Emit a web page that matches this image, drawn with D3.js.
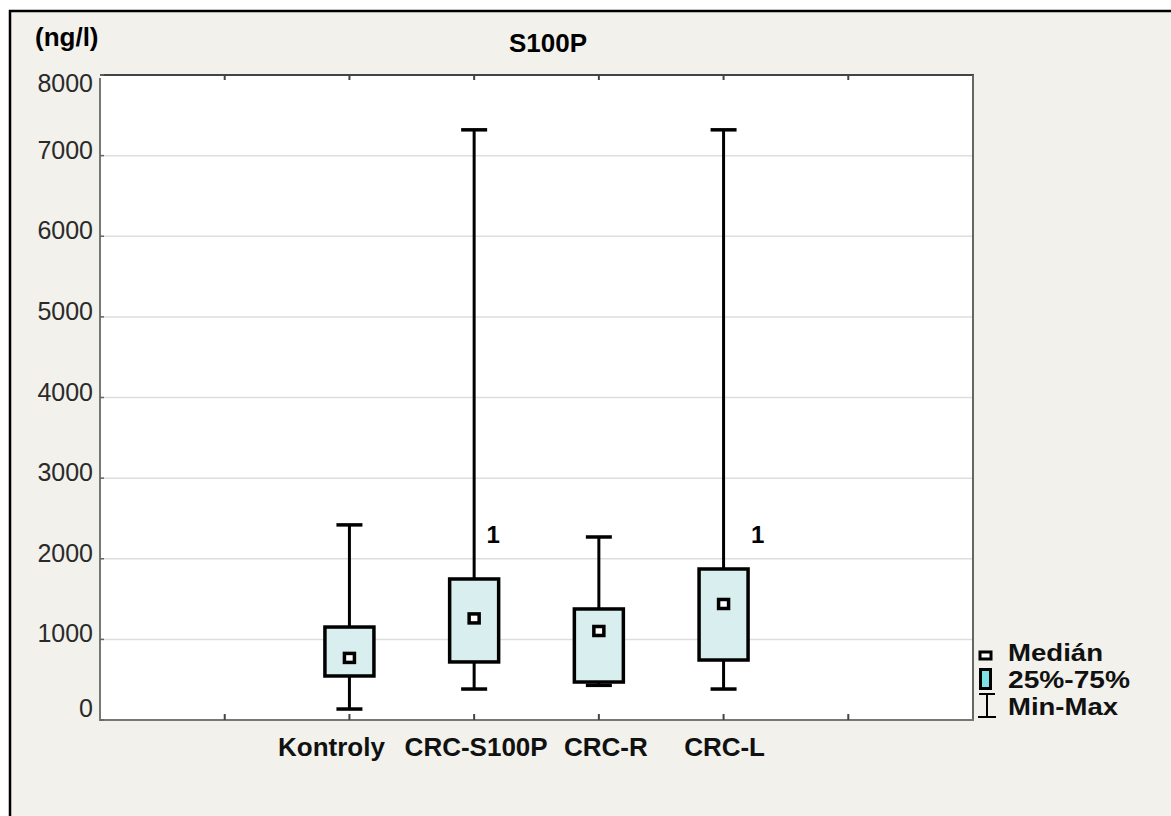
<!DOCTYPE html>
<html>
<head>
<meta charset="utf-8">
<script src="https://cdn.jsdelivr.net/npm/d3@7"></script>
<style>
  body { margin: 0; background: #fff; }
  text { font-family: "Liberation Sans", Arial, sans-serif; }
</style>
</head>
<body>
<div id="chart"></div>
<script>
// data
var categories = ["Kontroly", "CRC-S100P", "CRC-R", "CRC-L"];
var slots = [2, 3, 4, 5];          // position on the 0..7 x axis
var mins = [136, 384, 430, 384];
var q1s = [546, 720, 471, 744];
var medians = [770, 1260, 1104, 1439];
var q3s = [1153, 1749, 1377, 1873];
var maxs = [2420, 7320, 2270, 7320];
var yTicks = [0, 1000, 2000, 3000, 4000, 5000, 6000, 7000, 8000];
var notes = [{ cat: 1, value: 2195, text: "1", dx: 19 }, { cat: 3, value: 2195, text: "1", dx: 34 }];
var labelShift = [-18, 2, 7, 1];   // labels are not quite centred in the original
var legendItems = ["Medián", "25%-75%", "Min-Max"];
var legendWidths = [95, 122, 110];

var width = 1171, height = 816;
var svg = d3.select("#chart").append("svg")
  .attr("width", width).attr("height", height);

// background + frame
svg.append("rect").attr("x", 10).attr("y", 11).attr("width", 1200).attr("height", 900)
  .attr("fill", "#f2f1ec").attr("stroke", "#000").attr("stroke-width", 2.5);

var x = d3.scaleLinear().domain([0, 7]).range([100, 973]);
var y = d3.scaleLinear().domain([0, 8000]).range([720, 75]);

// plot area
svg.append("rect").attr("x", 100).attr("y", 75).attr("width", 873).attr("height", 645)
  .attr("fill", "#fff");

// gridlines
svg.append("g").selectAll("line")
  .data(yTicks.filter(function(d) { return d > 0 && d < 8000; }))
  .enter().append("line")
  .attr("x1", 101).attr("x2", 972)
  .attr("y1", function(d) { return y(d); }).attr("y2", function(d) { return y(d); })
  .attr("stroke", "#dedede").attr("stroke-width", 1.5);

// frame lines
svg.append("line").attr("x1", 100).attr("x2", 974).attr("y1", 75).attr("y2", 75)
  .attr("stroke", "#444").attr("stroke-width", 2);
svg.append("line").attr("x1", 973).attr("x2", 973).attr("y1", 75).attr("y2", 720)
  .attr("stroke", "#666").attr("stroke-width", 2);
svg.append("line").attr("x1", 100).attr("x2", 100).attr("y1", 78).attr("y2", 720)
  .attr("stroke", "#777").attr("stroke-width", 2);
svg.append("line").attr("x1", 99).attr("x2", 974).attr("y1", 720).attr("y2", 720)
  .attr("stroke", "#777").attr("stroke-width", 2);

// x ticks (inside, top and bottom)
var xt = d3.range(1, 7);
svg.append("g").selectAll("line").data(xt).enter().append("line")
  .attr("x1", x).attr("x2", x).attr("y1", 720).attr("y2", 714)
  .attr("stroke", "#444").attr("stroke-width", 2);
svg.append("g").selectAll("line").data(xt).enter().append("line")
  .attr("x1", x).attr("x2", x).attr("y1", 75).attr("y2", 80)
  .attr("stroke", "#444").attr("stroke-width", 2);

// y ticks + labels
svg.append("g").selectAll("line").data(yTicks).enter().append("line")
  .attr("x1", 100).attr("x2", 104)
  .attr("y1", y).attr("y2", y)
  .attr("stroke", "#666").attr("stroke-width", 1.5);
svg.append("g").selectAll("text").data(yTicks).enter().append("text")
  .attr("x", 93)
  .attr("y", function(d) { return y(d) + (d === 0 ? -3 : d === 8000 ? 17 : 3); })
  .attr("text-anchor", "end")
  .attr("font-size", 25).attr("fill", "#2a2a2a")
  .text(function(d) { return d; });

// boxes
var boxW = 52, capW = 26, medW = 10;
var idx = d3.range(categories.length);
var g = svg.append("g");

g.selectAll("line.whisk").data(idx).enter().append("line")
  .attr("x1", function(i) { return x(slots[i]); }).attr("x2", function(i) { return x(slots[i]); })
  .attr("y1", function(i) { return y(mins[i]); }).attr("y2", function(i) { return y(maxs[i]); })
  .attr("stroke", "#000").attr("stroke-width", 3);

g.selectAll("line.capmax").data(idx).enter().append("line")
  .attr("x1", function(i) { return x(slots[i]) - capW / 2; }).attr("x2", function(i) { return x(slots[i]) + capW / 2; })
  .attr("y1", function(i) { return y(maxs[i]); }).attr("y2", function(i) { return y(maxs[i]); })
  .attr("stroke", "#000").attr("stroke-width", 3.5);
g.selectAll("line.capmin").data(idx).enter().append("line")
  .attr("x1", function(i) { return x(slots[i]) - capW / 2; }).attr("x2", function(i) { return x(slots[i]) + capW / 2; })
  .attr("y1", function(i) { return y(mins[i]); }).attr("y2", function(i) { return y(mins[i]); })
  .attr("stroke", "#000").attr("stroke-width", 3.5);

g.selectAll("rect.box").data(idx).enter().append("rect")
  .attr("x", function(i) { return x(slots[i]) - boxW / 2 + 1.5; })
  .attr("width", boxW - 3)
  .attr("y", function(i) { return y(q3s[i]); })
  .attr("height", function(i) { return y(q1s[i]) - y(q3s[i]); })
  .attr("fill", "#d9efef").attr("stroke", "#000").attr("stroke-width", 3.5);

g.selectAll("rect.med").data(idx).enter().append("rect")
  .attr("x", function(i) { return x(slots[i]) - medW / 2; })
  .attr("y", function(i) { return y(medians[i]) - 4.5; })
  .attr("width", medW).attr("height", 9)
  .attr("fill", "#fff").attr("stroke", "#000").attr("stroke-width", 3.5);

// notes
g.selectAll("text.note").data(notes).enter().append("text")
  .attr("x", function(d) { return x(slots[d.cat]) + d.dx; })
  .attr("y", function(d) { return y(d.value); })
  .attr("text-anchor", "middle")
  .attr("font-size", 24).attr("font-weight", "bold")
  .text(function(d) { return d.text; });

// category labels
svg.append("g").selectAll("text").data(idx).enter().append("text")
  .attr("x", function(i) { return x(slots[i]) + labelShift[i]; })
  .attr("y", 756)
  .attr("text-anchor", "middle")
  .attr("font-size", 26).attr("font-weight", "bold").attr("fill", "#111")
  .text(function(i) { return categories[i]; });

// titles
svg.append("text").attr("x", 548).attr("y", 52).attr("text-anchor", "middle")
  .attr("font-size", 26).attr("font-weight", "bold").text("S100P");
svg.append("text").attr("x", 35).attr("y", 46)
  .attr("font-size", 26).attr("font-weight", "bold").text("(ng/l)");

// legend
var lg = svg.append("g");
lg.append("rect").attr("x", 980).attr("y", 652).attr("width", 11).attr("height", 7)
  .attr("fill", "#fff").attr("stroke", "#000").attr("stroke-width", 3);
lg.append("rect").attr("x", 980.5).attr("y", 669.5).attr("width", 10).attr("height", 19)
  .attr("fill", "#80e0e8").attr("stroke", "#000").attr("stroke-width", 3);
lg.append("line").attr("x1", 987).attr("x2", 987).attr("y1", 694).attr("y2", 717)
  .attr("stroke", "#000").attr("stroke-width", 2);
lg.append("line").attr("x1", 979).attr("x2", 995).attr("y1", 694).attr("y2", 694)
  .attr("stroke", "#000").attr("stroke-width", 2);
lg.append("line").attr("x1", 978).attr("x2", 996).attr("y1", 717).attr("y2", 717)
  .attr("stroke", "#000").attr("stroke-width", 2);
lg.selectAll("text").data(legendItems).enter().append("text")
  .attr("x", 1008)
  .attr("y", function(d, i) { return [661, 688, 715][i]; })
  .attr("font-size", 23).attr("font-weight", "bold").attr("fill", "#111")
  .attr("textLength", function(d, i) { return legendWidths[i]; })
  .attr("lengthAdjust", "spacingAndGlyphs")
  .text(function(d) { return d; });
</script>
</body>
</html>
